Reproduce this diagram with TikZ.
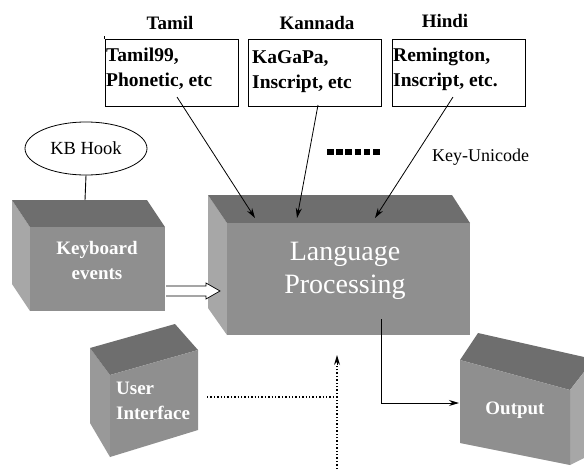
\documentclass[tikz,border=0pt]{standalone}
\usepackage{fontspec}
\setmainfont{Liberation Serif}
\usetikzlibrary{arrows.meta,calc,shapes.geometric}
\definecolor{topg}{HTML}{6E6E6E}
\definecolor{frontg}{HTML}{8F8F8F}
\definecolor{sideg}{HTML}{A7A7A7}
\definecolor{sideb}{HTML}{999999}
\begin{document}
\begin{tikzpicture}[x=1pt,y=-1pt,
  title/.style={font=\fontsize{19}{23}\selectfont\bfseries, inner sep=0pt},
  langbox/.style={draw, line width=0.9pt, minimum width=133pt, minimum height=67pt, inner sep=0pt},
  boxtext/.style={font=\fontsize{19.5}{25}\selectfont\bfseries, align=left, anchor=north west, inner sep=0pt},
  arr/.style={line width=0.8pt, -{Stealth[length=10pt,width=6pt]}},
  topface/.style={fill=topg},
  frontface/.style={fill=frontg},
  sideface/.style={fill=sideg},
  wtext/.style={text=white, font=\fontsize{19}{25}\selectfont\bfseries, align=center, inner sep=0pt},
  plain/.style={font=\fontsize{18}{22}\selectfont, inner sep=0pt},
  dotline/.style={line width=1.4pt, dotted}
]
\useasboundingbox (0,0) rectangle (584,469);

% titles
\node[title] (tamilT) at (170,23) {Tamil};
\node[title] (kannadaT) at (317,23) {Kannada};
\node[title] (hindiT) at (445,21) {Hindi};

% layout boxes
\node[langbox] (tamilbox) at (171.5,72.5) {};
\node[langbox] (kannadabox) at (315,72.5) {};
\node[langbox] (hindibox) at (458.5,72.5) {};
\draw[line width=0.9pt] (tamilbox.north west) -- ++(0,-3);
\node[boxtext] (tamiltext) at (106,48) {Tamil99,\\Phonetic, etc};
\node[boxtext] (kannadatext) at (252,50) {KaGaPa,\\Inscript, etc};
\node[boxtext] (hinditext) at (393,48) {Remington,\\Inscript, etc.};

% KB hook
\node[draw, ellipse, line width=0.8pt, minimum width=122pt, minimum height=53pt, inner sep=0pt,
      font=\fontsize{18.5}{22}\selectfont] (hook) at (86,148.5) {KB Hook};

% Keyboard events box
\coordinate (kbA) at (12,200);  \coordinate (kbB) at (147,200);
\coordinate (kbC) at (165,227); \coordinate (kbD) at (30,227);
\coordinate (kbE) at (165,311); \coordinate (kbF) at (30,311);
\coordinate (kbG) at (12,284);
\fill[sideface] (kbA) -- (kbD) -- (kbF) -- (kbG) -- cycle;
\fill[topface] (kbA) -- (kbB) -- (kbC) -- (kbD) -- cycle;
\fill[frontface] (kbD) -- (kbC) -- (kbE) -- (kbF) -- cycle;
\node[wtext] (kbtext) at (97,260) {Keyboard\\events};
\coordinate (kbtop) at (85,200);

% Language processing box
\coordinate (lpA) at (208,195); \coordinate (lpB) at (452,195);
\coordinate (lpC) at (470,223); \coordinate (lpD) at (227,223);
\coordinate (lpE) at (470,335); \coordinate (lpF) at (227,335);
\coordinate (lpG) at (208,308);
\fill[sideface] (lpA) -- (lpD) -- (lpF) -- (lpG) -- cycle;
\fill[topface] (lpA) -- (lpB) -- (lpC) -- (lpD) -- cycle;
\fill[frontface] (lpD) -- (lpC) -- (lpE) -- (lpF) -- cycle;
\node[text=white, font=\fontsize{28}{33}\selectfont, align=center, inner sep=0pt] (lptext) at (345,271) {Language\\Processing};

% User interface box
\coordinate (uiA) at (90,348);  \coordinate (uiB) at (175,324);
\coordinate (uiC) at (198,350); \coordinate (uiD) at (110,375);
\coordinate (uiE) at (198,430); \coordinate (uiF) at (110,457);
\coordinate (uiG) at (90,423);
\fill[fill=sideb] (uiA) -- (uiD) -- (uiF) -- (uiG) -- cycle;
\fill[topface] (uiA) -- (uiB) -- (uiC) -- (uiD) -- cycle;
\fill[frontface] (uiD) -- (uiC) -- (uiE) -- (uiF) -- cycle;
\node[wtext, align=left, anchor=west] (uitext) at (116,401) {User\\Interface};

% Output box
\coordinate (oA) at (478,333); \coordinate (oB) at (584,357);
\coordinate (oH) at (584,372); \coordinate (oC) at (570,390);
\coordinate (oD) at (460,360); \coordinate (oE) at (570,465);
\coordinate (oF) at (460,443); \coordinate (oG) at (584,458);
\fill[topface] (oA) -- (oB) -- (oH) -- (oC) -- (oD) -- cycle;
\fill[sideface] (oC) -- (oH) -- (oG) -- (oE) -- cycle;
\fill[frontface] (oD) -- (oC) -- (oE) -- (oF) -- cycle;
\node[wtext] (otext) at (515,410) {Output};

% arrows from layouts
\coordinate (tamilS) at (177,97);   \coordinate (tamilE) at (255,218);
\coordinate (kannadaS) at (318,105); \coordinate (kannadaE) at (297,218);
\coordinate (hindiS) at (453,97);   \coordinate (hindiE) at (375,218);
\draw[arr] (tamilS) -- (tamilE);
\draw[arr] (kannadaS) -- (kannadaE);
\draw[arr] (hindiS) -- (hindiE);

% ellipsis marks and label
\coordinate (dotsS) at (327,152); \coordinate (dotsE) at (382,152);
\draw[line width=6.5pt, dash pattern=on 6.5pt off 2.7pt] (dotsS) -- (dotsE);
\node[plain, anchor=west] (ku) at (432,157) {Key-Unicode};

% hook to keyboard
\draw[line width=0.9pt] (hook.south) -- (kbtop);

% hollow arrow keyboard -> LP
\coordinate (haS) at (166,291); \coordinate (haE) at (220,291);
\draw[line width=0.7pt, fill=white]
  ($(haS)+(0,-5)$) -- ($(haE)+(-14,-5)$) -- ($(haE)+(-14,-8)$) -- (haE)
  -- ($(haE)+(-14,8)$) -- ($(haE)+(-14,5)$) -- ($(haS)+(0,5)$);

% LP -> output
\coordinate (lpout) at (381,319); \coordinate (oin) at (459,403);
\draw[arr, line width=1pt] (lpout) |- (oin);

% UI dotted and vertical dotted
\coordinate (uiout) at (207,397); \coordinate (vjoin) at (337,397);
\coordinate (vbot) at (337,469); \coordinate (vtip) at (337,355);
\draw[dotline] (uiout) -- (vjoin);
\draw[dotline] (vbot) -- ($(vtip)+(0,9)$);
\draw[line width=0pt, -{Stealth[length=10pt,width=6pt]}] ($(vtip)+(0,9)$) -- (vtip);
\end{tikzpicture}
\end{document}
